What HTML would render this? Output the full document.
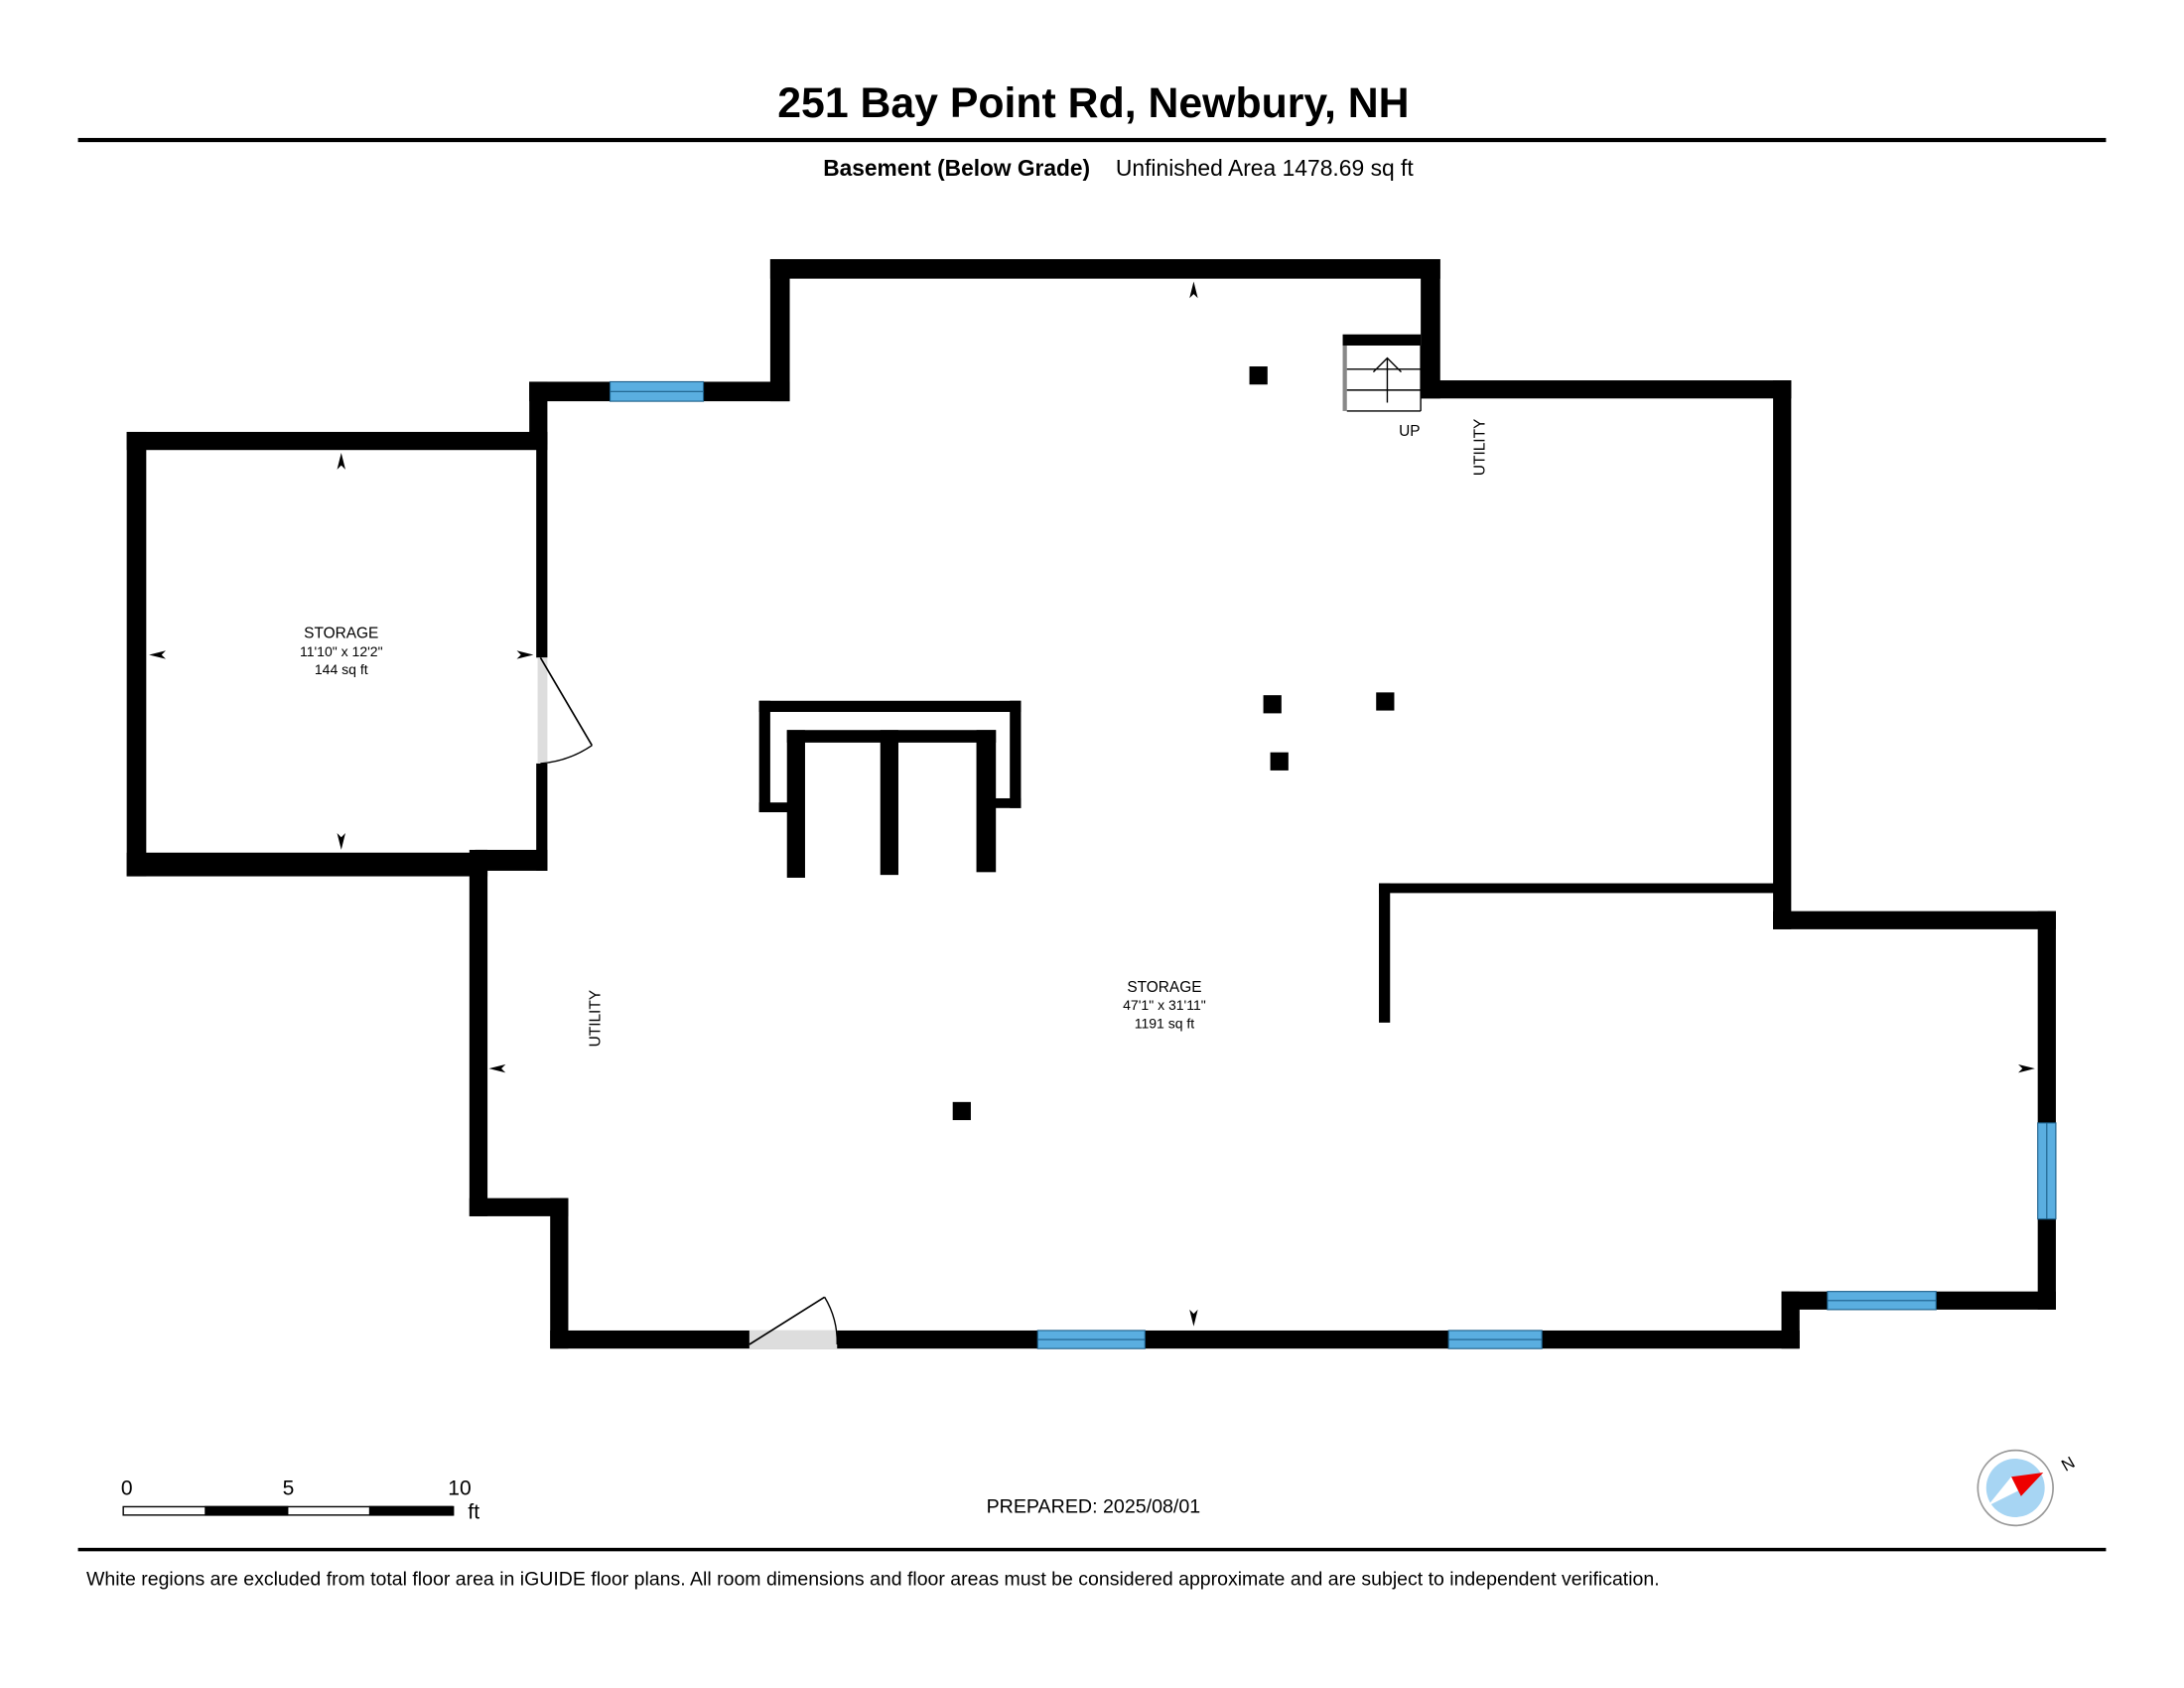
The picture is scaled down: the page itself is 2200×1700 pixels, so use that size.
<!DOCTYPE html>
<html><head><meta charset="utf-8"><style>
html,body{margin:0;padding:0;background:#fff;}
svg{display:block;}
text{font-family:"Liberation Sans",sans-serif;fill:#000;}
</style></head><body>
<svg width="2200" height="1700" viewBox="0 0 1568 1211.6" xmlns="http://www.w3.org/2000/svg">
<rect width="1568" height="1212" fill="#fff"/>
<text x="785" y="84" font-size="30.5" font-weight="bold" text-anchor="middle">251 Bay Point Rd, Newbury, NH</text>
<rect x="56" y="99" width="1456" height="3" fill="#000"/>
<text x="591" y="126" font-size="16.2" font-weight="bold">Basement (Below Grade)</text>
<text x="801" y="126" font-size="16.3">Unfinished Area 1478.69 sq ft</text>

<g fill="#000">
<rect x="553" y="186" width="481" height="14"/>
<rect x="553" y="186" width="14" height="102"/>
<rect x="380" y="274" width="187" height="14"/>
<rect x="380" y="274" width="13" height="45"/>
<rect x="385" y="310" width="8" height="162"/>
<rect x="385" y="548" width="8" height="77"/>
<rect x="91" y="310" width="302" height="13"/>
<rect x="91" y="310" width="14" height="319"/>
<rect x="91" y="612" width="259" height="17"/>
<rect x="341" y="610" width="52" height="15"/>
<rect x="337" y="610" width="13" height="263"/>
<rect x="337" y="860" width="71" height="13"/>
<rect x="395" y="860" width="13" height="108"/>
<rect x="395" y="955" width="897" height="13"/>
<rect x="1279" y="927" width="13" height="41"/>
<rect x="1279" y="927" width="197" height="13"/>
<rect x="1463" y="654" width="13" height="286"/>
<rect x="1273" y="654" width="203" height="13"/>
<rect x="1273" y="273" width="13" height="394"/>
<rect x="1020" y="273" width="266" height="13"/>
<rect x="1020" y="186" width="14" height="100"/>
<rect x="990" y="634" width="284" height="7"/>
<rect x="990" y="634" width="8" height="100"/>
<rect x="545" y="503" width="188" height="8"/>
<rect x="545" y="503" width="8" height="80"/>
<rect x="545" y="576" width="25" height="7"/>
<rect x="725" y="503" width="8" height="77"/>
<rect x="710" y="573" width="23" height="7"/>
<rect x="565" y="524" width="150" height="9"/>
<rect x="565" y="524" width="13" height="106"/>
<rect x="632" y="524" width="13" height="104"/>
<rect x="701" y="524" width="14" height="102"/>
<rect x="897" y="263" width="13" height="13"/>
<rect x="907" y="499" width="13" height="13"/>
<rect x="988" y="497" width="13" height="13"/>
<rect x="912" y="540" width="13" height="13"/>
<rect x="684" y="791" width="13" height="13"/>
</g>

<g fill="#5aaee0" stroke="#1c5f8a" stroke-width="0.8">
<rect x="438" y="274" width="67" height="14"/>
<rect x="745" y="955" width="77" height="13"/>
<rect x="1040" y="955" width="67" height="13"/>
<rect x="1312" y="927" width="78" height="13"/>
<rect x="1463" y="806" width="13" height="69"/>
</g>
<g stroke="#1c5f8a" stroke-width="0.8">
<line x1="438" y1="281" x2="505" y2="281"/>
<line x1="745" y1="961.5" x2="822" y2="961.5"/>
<line x1="1040" y1="961.5" x2="1107" y2="961.5"/>
<line x1="1312" y1="933.5" x2="1390" y2="933.5"/>
<line x1="1469.5" y1="806" x2="1469.5" y2="875"/>
</g>

<rect x="386" y="472" width="7" height="76" fill="#ddd"/>
<path d="M388 472 L425 535" stroke="#000" stroke-width="1.2" fill="none"/>
<path d="M425 535 A76 76 0 0 1 388 548" stroke="#000" stroke-width="1" fill="none"/>
<rect x="538" y="955" width="63" height="13" fill="#ddd"/>
<path d="M538 965 L592 931" stroke="#000" stroke-width="1.2" fill="none"/>
<path d="M592 931 A63 63 0 0 1 601 965" stroke="#000" stroke-width="1" fill="none"/>

<rect x="964" y="240" width="56" height="8" fill="#000"/>
<rect x="964" y="248" width="3" height="47" fill="#888"/>
<g stroke="#000" stroke-width="1" fill="none">
<line x1="967" y1="295" x2="1020" y2="295"/>
<line x1="967" y1="265" x2="1020" y2="265"/>
<line x1="967" y1="280" x2="1020" y2="280"/>
<line x1="1020" y1="248" x2="1020" y2="295"/>
<line x1="996" y1="289" x2="996" y2="257"/>
<path d="M986 267 L996 257 L1006 267"/>
</g>

<g fill="#000">
<path d="M857 202 l-3 12 l3 -3 l3 3z"/>
<path d="M857 952 l-3 -12 l3 3 l3 -3z"/>
<path d="M245 325 l-3 12 l3 -3 l3 3z"/>
<path d="M245 610 l-3 -12 l3 3 l3 -3z"/>
<path d="M107 470 l12 -3 l-3 3 l3 3z"/>
<path d="M383 470 l-12 -3 l3 3 l-3 3z"/>
<path d="M351 767 l12 -3 l-3 3 l3 3z"/>
<path d="M1461 767 l-12 -3 l3 3 l-3 3z"/>
</g>

<g font-size="11" text-anchor="middle">
<text x="245" y="458">STORAGE</text>
<text x="245" y="471" font-size="10">11'10" x 12'2"</text>
<text x="245" y="484" font-size="10">144 sq ft</text>
<text x="836" y="712">STORAGE</text>
<text x="836" y="725" font-size="10">47'1" x 31'11"</text>
<text x="836" y="738" font-size="10">1191 sq ft</text>
<text x="1012" y="313">UP</text>
<text transform="translate(1066,321) rotate(-90)">UTILITY</text>
<text transform="translate(431,731) rotate(-90)">UTILITY</text>
</g>

<g font-size="15">
<text x="91" y="1073" text-anchor="middle">0</text>
<text x="207" y="1073" text-anchor="middle">5</text>
<text x="330" y="1073" text-anchor="middle">10</text>
<text x="336" y="1090">ft</text>
</g>
<rect x="88.5" y="1081.5" width="237" height="6" fill="#fff" stroke="#000" stroke-width="1"/>
<rect x="147" y="1081" width="60" height="7" fill="#000"/>
<rect x="265" y="1081" width="60" height="7" fill="#000"/>
<text x="785" y="1086" font-size="14" text-anchor="middle">PREPARED: 2025/08/01</text>

<circle cx="1447" cy="1068" r="27" fill="#fff" stroke="#999" stroke-width="1.2"/>
<circle cx="1447" cy="1068" r="21" fill="#a7d5f3"/>
<path d="M1427 1081 L1457 1066 L1444 1060z" fill="#fff"/>
<path d="M1444 1060 L1467 1057 L1451 1074z" fill="#e00"/>
<text x="1481" y="1057" font-size="12" transform="rotate(-30 1481 1053)">N</text>

<rect x="56" y="1111" width="1456" height="2.5" fill="#000"/>
<text x="62" y="1138" font-size="13.9">White regions are excluded from total floor area in iGUIDE floor plans. All room dimensions and floor areas must be considered approximate and are subject to independent verification.</text>
</svg>
</body></html>
